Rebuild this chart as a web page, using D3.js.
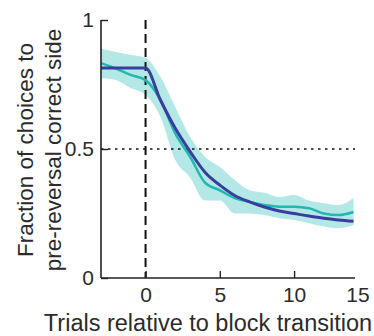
<!DOCTYPE html>
<html>
<head>
<meta charset="utf-8">
<script src="https://cdn.jsdelivr.net/npm/d3@7"></script>
<style>
  body { margin: 0; background: #fff; }
  text { font-family: "Liberation Sans", Arial, sans-serif; fill: #2b2b2b; }
</style>
</head>
<body>
<svg id="chart" width="374" height="336"></svg>
<script>
// trials relative to block transition
var trials = [-3,-2,-1,0,1,2,3,4,5,6,7,8,9,10,11,12,13,14];
// observed choice fraction (cyan) and its band
var observed = [0.833,0.812,0.787,0.767,0.69,0.56,0.47,0.37,0.34,0.31,0.295,0.283,0.276,0.276,0.27,0.25,0.244,0.256];
var bandHigh = [0.89,0.876,0.864,0.853,0.78,0.663,0.547,0.47,0.43,0.38,0.34,0.33,0.314,0.322,0.30,0.29,0.283,0.31];
var bandLow  = [0.775,0.767,0.736,0.709,0.625,0.457,0.39,0.30,0.30,0.25,0.25,0.244,0.232,0.225,0.212,0.20,0.193,0.205];
// model fit (dark blue)
var model = [0.814,0.814,0.814,0.814,0.69,0.58,0.49,0.41,0.36,0.32,0.295,0.275,0.26,0.25,0.24,0.232,0.225,0.22];

var xTicks = [0, 5, 10];
var yTicks = [0, 0.5, 1];

var svg = d3.select("#chart");

var x = d3.scaleLinear().domain([-3, 14.1]).range([101, 355]);
var y = d3.scaleLinear().domain([0, 1]).range([278, 20]);

var rows = trials.map(function(t, i){
  return {t: t, obs: observed[i], hi: bandHigh[i], lo: bandLow[i], fit: model[i]};
});

// band
svg.append("path")
  .datum(rows)
  .attr("fill", "#b3e8e6")
  .attr("d", d3.area()
    .curve(d3.curveMonotoneX)
    .x(function(d){ return x(d.t); })
    .y0(function(d){ return y(d.lo); })
    .y1(function(d){ return y(d.hi); }));

// reference lines
svg.append("line")
  .attr("x1", x(-3)).attr("x2", x(14.1))
  .attr("y1", y(0.5)).attr("y2", y(0.5))
  .attr("stroke", "#111").attr("stroke-width", 1.6)
  .attr("stroke-dasharray", "2.5,4.5");

svg.append("line")
  .attr("x1", x(0)).attr("x2", x(0))
  .attr("y1", y(1)).attr("y2", y(0))
  .attr("stroke", "#111").attr("stroke-width", 2)
  .attr("stroke-dasharray", "9,5");

svg.append("path")
  .datum(rows)
  .attr("fill", "none")
  .attr("stroke", "#22b8b0")
  .attr("stroke-width", 2.5)
  .attr("d", d3.line()
    .curve(d3.curveMonotoneX)
    .x(function(d){ return x(d.t); })
    .y(function(d){ return y(d.obs); }));

svg.append("path")
  .datum(rows)
  .attr("fill", "none")
  .attr("stroke", "#3a3d9e")
  .attr("stroke-width", 3)
  .attr("d", d3.line()
    .curve(d3.curveMonotoneX)
    .x(function(d){ return x(d.t); })
    .y(function(d){ return y(d.fit); }));

// axes
var xAxis = d3.axisBottom(x).tickValues(xTicks).tickSize(-7).tickPadding(9)
  .tickFormat(d3.format("d"));
var yAxis = d3.axisLeft(y).tickValues(yTicks).tickSize(-7).tickPadding(7)
  .tickFormat(function(d){ return d === 0.5 ? "0.5" : d3.format("d")(d); });

var gx = svg.append("g").attr("transform", "translate(0," + y(0) + ")").call(xAxis);
var gy = svg.append("g").attr("transform", "translate(" + x(-3) + ",0)").call(yAxis);

[gx, gy].forEach(function(g){
  g.select(".domain").attr("stroke", "#222").attr("stroke-width", 1.6);
  g.selectAll(".tick line").attr("stroke", "#222").attr("stroke-width", 1.4);
  g.selectAll(".tick text").style("font-size", "21px").attr("fill", "#2b2b2b");
});
gx.select(".domain").attr("d", "M" + x(-3) + ",0H" + x(14.1));
gy.select(".domain").attr("d", "M0," + y(0) + "V" + y(1));

// last x label sits at the axis end
svg.append("text")
  .attr("x", x(14.1) + 3).attr("y", y(0) + 24)
  .attr("text-anchor", "middle")
  .style("font-size", "21px")
  .text("15");

// axis titles
svg.append("text")
  .attr("x", 208).attr("y", 331)
  .attr("text-anchor", "middle")
  .style("font-size", "23.5px")
  .text("Trials relative to block transition");

var yl = svg.append("g").attr("transform", "translate(0,150) rotate(-90)");
yl.append("text").attr("x", 0).attr("y", 33)
  .attr("text-anchor", "middle").style("font-size", "22.5px")
  .text("Fraction of choices to");
yl.append("text").attr("x", 0).attr("y", 61)
  .attr("text-anchor", "middle").style("font-size", "22.5px")
  .text("pre-reversal correct side");
</script>
</body>
</html>
